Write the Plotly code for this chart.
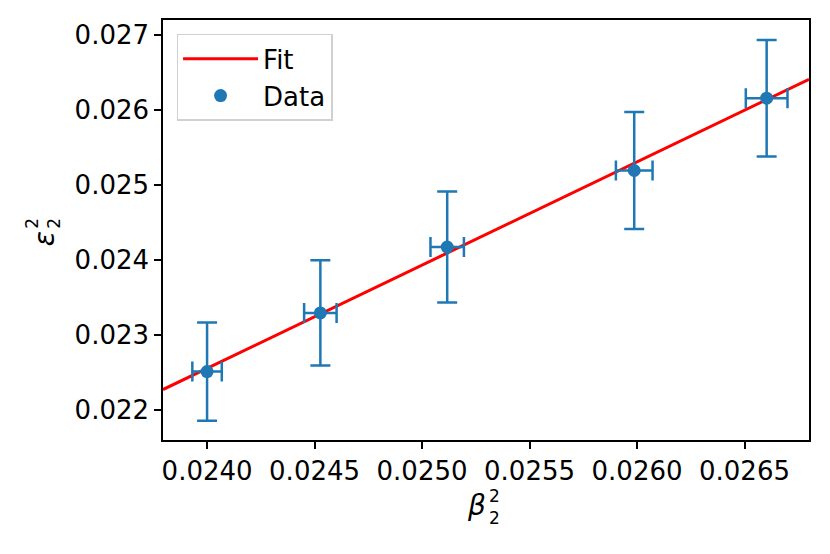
import plotly.graph_objects as go

# Data
beta2 = [0.02400, 0.024527, 0.025117, 0.025987, 0.026603]
eps2 = [0.022512, 0.023293, 0.024170, 0.025189, 0.026152]
eps2_err = [0.000655, 0.000700, 0.000738, 0.000780, 0.000776]
beta2_err = [0.0000685, 0.0000755, 0.0000778, 0.0000853, 0.000097]

# Fit line endpoints (spanning the axis range)
fit_x = [0.023795, 0.0268]
fit_y = [0.022273, 0.026404]

x_ticks = [0.0240, 0.0245, 0.0250, 0.0255, 0.0260, 0.0265]
x_ticklabels = ["0.0240", "0.0245", "0.0250", "0.0255", "0.0260", "0.0265"]
y_ticks = [0.022, 0.023, 0.024, 0.025, 0.026, 0.027]
y_ticklabels = ["0.022", "0.023", "0.024", "0.025", "0.026", "0.027"]

BLUE = "#1f77b4"
FONT = "DejaVu Sans"

fig = go.Figure()
fig.add_trace(go.Scatter(
    x=fit_x, y=fit_y, mode="lines", name="Fit",
    line=dict(color="red", width=3),
))
fig.add_trace(go.Scatter(
    x=beta2, y=eps2, mode="markers", name="Data",
    marker=dict(color=BLUE, size=13),
    error_y=dict(type="data", array=eps2_err, color=BLUE, thickness=2.5, width=10),
    error_x=dict(type="data", array=beta2_err, color=BLUE, thickness=2.5, width=10),
))

axis_common = dict(
    showline=True, linecolor="black", linewidth=1.5, mirror=True,
    ticks="outside", ticklen=7, tickwidth=1.5, tickcolor="black",
    showgrid=False, zeroline=False,
    tickfont=dict(family=FONT, size=26, color="black"),
)

fig.update_xaxes(range=[0.023795, 0.0268], tickvals=x_ticks, ticktext=x_ticklabels, **axis_common)
fig.update_yaxes(range=[0.021601, 0.027193], tickvals=y_ticks, ticktext=y_ticklabels, **axis_common)

ann = []
# x label: beta with stacked superscript/subscript
ann.append(dict(text="<i>β</i>", x=0.486, y=-0.155, font=dict(size=28)))
ann.append(dict(text="2<br>2", x=0.5125, y=-0.1593, font=dict(size=17), borderpad=0))
# y label: epsilon with stacked superscript/subscript (rotated)
ann.append(dict(text="<i>ε</i>", x=-0.183, y=0.480, font=dict(size=28), textangle=-90))
ann.append(dict(text="2<br>2", x=-0.1858, y=0.517, font=dict(size=17), textangle=-90, borderpad=0))
for a in ann:
    a.update(xref="paper", yref="paper", showarrow=False, xanchor="center", yanchor="middle")
    a["font"].update(family=FONT, color="black")

fig.update_layout(
    width=830, height=554,
    margin=dict(l=163, r=21, t=20, b=113.5),
    paper_bgcolor="white", plot_bgcolor="white",
    font=dict(family=FONT, size=26, color="black"),
    annotations=ann,
    legend=dict(
        x=0.021, y=0.967, xanchor="left", yanchor="top",
        bgcolor="rgba(255,255,255,0.8)", bordercolor="#d0d0d0", borderwidth=1.5,
        font=dict(family=FONT, size=26, color="black"),
        itemwidth=75, tracegroupgap=0,
    ),
)

fig.write_html("out.html", config={"displayModeBar": False},
               post_script="document.body.style.margin='0px';")
